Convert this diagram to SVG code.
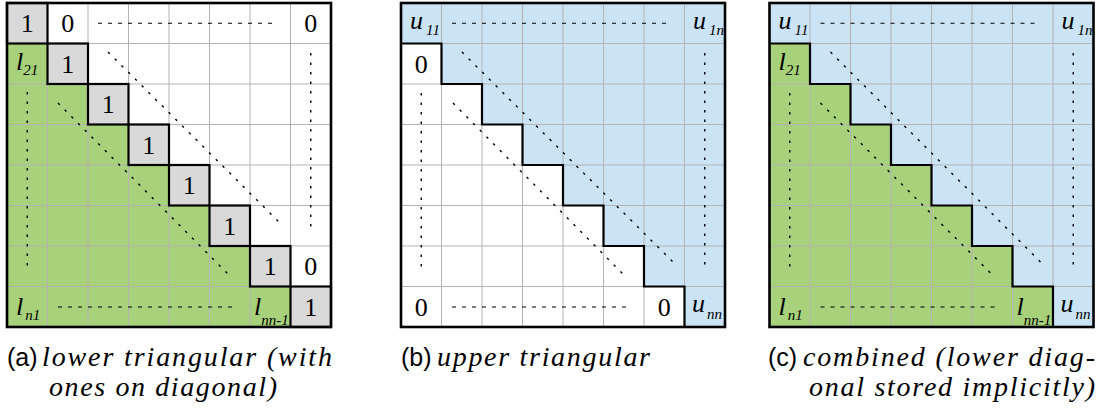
<svg xmlns="http://www.w3.org/2000/svg" width="1101" height="418" viewBox="0 0 1101 418">
<style>
.grid{stroke:#b3b3b3;stroke-width:1;fill:none}
.thick{stroke:#000;stroke-width:2.2;fill:none}
.outer{stroke:#000;stroke-width:2.6;fill:none}
.green{fill:#a7d17a}
.blue{fill:#cbe4f5}
.gray{fill:#d9d9d9}
.white{fill:#fff}
.dash{stroke:#000;stroke-width:1.1;stroke-dasharray:4 6;fill:none}
.dot{stroke:#000;stroke-width:1.4;stroke-dasharray:2.5 7;fill:none}
.num{font-family:'Liberation Serif','DejaVu Serif',serif;font-size:26px;text-anchor:middle;fill:#000}
.var{font-family:'Liberation Serif','DejaVu Serif',serif;font-size:26px;font-style:italic;fill:#000}
.sub{font-size:15px}
.cap{font-family:'Liberation Serif','DejaVu Serif',serif;font-style:italic;font-size:28px;fill:#000}
.lab{font-family:'Liberation Sans','DejaVu Sans',sans-serif;font-size:25px;fill:#000}
</style>
<defs>
<path id="gridlines" class="grid" d="M40.5 0V324M81 0V324M121.5 0V324M162 0V324M202.5 0V324M243 0V324M283.5 0V324M0 40.5H324M0 81H324M0 121.5H324M0 162H324M0 202.5H324M0 243H324M0 283.5H324"/>
<path id="stair" class="thick" d="M0 40.5H40.5V81H81V121.5H121.5V162H162V202.5H202.5V243H243V283.5H283.5V324"/>
<path id="lowerfill" class="green" d="M0 40.5H40.5V81H81V121.5H121.5V162H162V202.5H202.5V243H243V283.5H283.5V324H0Z"/>
<path id="upperfill" class="blue" d="M0 0H324V324H283.5V283.5H243V243H202.5V202.5H162V162H121.5V121.5H81V81H40.5V40.5H0Z"/>
</defs>

<!-- Panel (a) -->
<g id="panel-a" transform="translate(7,3)">
  <rect class="white" x="0" y="0" width="324" height="324"/>
  <use href="#lowerfill"/>
  <g id="a-diag">
    <rect class="gray" x="0" y="0" width="40.5" height="40.5"/>
    <rect class="gray" x="40.5" y="40.5" width="40.5" height="40.5"/>
    <rect class="gray" x="81" y="81" width="40.5" height="40.5"/>
    <rect class="gray" x="121.5" y="121.5" width="40.5" height="40.5"/>
    <rect class="gray" x="162" y="162" width="40.5" height="40.5"/>
    <rect class="gray" x="202.5" y="202.5" width="40.5" height="40.5"/>
    <rect class="gray" x="243" y="243" width="40.5" height="40.5"/>
    <rect class="gray" x="283.5" y="283.5" width="40.5" height="40.5"/>
  </g>
  <use href="#gridlines"/>
  <g id="a-dots">
    <path class="dash" d="M91 20.3H268"/>
    <path class="dot" d="M303.75 50V225"/>
    <path class="dot" d="M101 49L275 222"/>
    <path class="dot" d="M20.25 89V265"/>
    <path class="dot" d="M51 100L224 274"/>
    <path class="dash" d="M51 304H226"/>
  </g>
  <g id="a-text">
    <text class="num" x="20.25" y="29">1</text>
    <text class="num" x="60.75" y="69.5">1</text>
    <text class="num" x="101.25" y="110">1</text>
    <text class="num" x="141.75" y="150.5">1</text>
    <text class="num" x="182.25" y="191">1</text>
    <text class="num" x="222.75" y="231.5">1</text>
    <text class="num" x="263.25" y="272">1</text>
    <text class="num" x="303.75" y="312.5">1</text>
    <text class="num" x="60.75" y="29">0</text>
    <text class="num" x="303.75" y="29">0</text>
    <text class="num" x="303.75" y="272">0</text>
    <text class="var" x="9" y="67">l<tspan class="sub" dy="5">21</tspan></text>
    <text class="var" x="9" y="312">l<tspan class="sub" dx="2" dy="5">n1</tspan></text>
    <text class="var" x="247" y="312">l<tspan class="sub" dy="10">nn-1</tspan></text>
  </g>
  <g id="a-lines">
    <rect class="thick" x="0" y="0" width="40.5" height="40.5"/>
    <rect class="thick" x="40.5" y="40.5" width="40.5" height="40.5"/>
    <rect class="thick" x="81" y="81" width="40.5" height="40.5"/>
    <rect class="thick" x="121.5" y="121.5" width="40.5" height="40.5"/>
    <rect class="thick" x="162" y="162" width="40.5" height="40.5"/>
    <rect class="thick" x="202.5" y="202.5" width="40.5" height="40.5"/>
    <rect class="thick" x="243" y="243" width="40.5" height="40.5"/>
    <rect class="thick" x="283.5" y="283.5" width="40.5" height="40.5"/>
    <rect class="outer" x="0" y="0" width="324" height="324"/>
  </g>
</g>

<!-- Panel (b) -->
<g id="panel-b" transform="translate(401,3)">
  <rect class="white" x="0" y="0" width="324" height="324"/>
  <use href="#upperfill"/>
  <use href="#gridlines"/>
  <g id="b-dots">
    <path class="dash" d="M51 20.3H266"/>
    <path class="dot" d="M303.75 50V265"/>
    <path class="dot" d="M61 49L272 259"/>
    <path class="dot" d="M20.25 90V265"/>
    <path class="dot" d="M52 100L224 273"/>
    <path class="dash" d="M51 304H227"/>
  </g>
  <g id="b-text">
    <text class="var" x="9" y="26">u<tspan class="sub" dx="3" dy="6">11</tspan></text>
    <text class="var" x="292" y="26">u<tspan class="sub" dx="3" dy="6">1n</tspan></text>
    <text class="num" x="20.25" y="69.5">0</text>
    <text class="num" x="20.25" y="312.5">0</text>
    <text class="num" x="263.25" y="312.5">0</text>
    <text class="var" x="291" y="309">u<tspan class="sub" dx="2" dy="7">nn</tspan></text>
  </g>
  <g id="b-lines">
    <use href="#stair"/>
    <rect class="outer" x="0" y="0" width="324" height="324"/>
  </g>
</g>

<!-- Panel (c) -->
<g id="panel-c" transform="translate(769.5,3)">
  <use href="#upperfill"/>
  <use href="#lowerfill"/>
  <use href="#gridlines"/>
  <g id="c-dots">
    <path class="dash" d="M51 20.3H268"/>
    <path class="dot" d="M303.75 50V265"/>
    <path class="dot" d="M61 49L271 259"/>
    <path class="dot" d="M20.25 90V265"/>
    <path class="dot" d="M51 100L224 273"/>
    <path class="dash" d="M51 304H228"/>
  </g>
  <g id="c-text">
    <text class="var" x="9" y="26">u<tspan class="sub" dx="3" dy="6">11</tspan></text>
    <text class="var" x="292" y="26">u<tspan class="sub" dx="3" dy="6">1n</tspan></text>
    <text class="var" x="9" y="67">l<tspan class="sub" dy="5">21</tspan></text>
    <text class="var" x="9" y="312">l<tspan class="sub" dx="2" dy="5">n1</tspan></text>
    <text class="var" x="247" y="312">l<tspan class="sub" dy="10">nn-1</tspan></text>
    <text class="var" x="291" y="309">u<tspan class="sub" dx="2" dy="7">nn</tspan></text>
  </g>
  <g id="c-lines">
    <use href="#stair"/>
    <rect class="outer" x="0" y="0" width="324" height="324"/>
  </g>
</g>

<!-- Captions -->
<g id="caption-a">
  <text class="lab" x="7" y="366">(a)</text>
  <text class="cap" x="42" y="366" textLength="290" lengthAdjust="spacing">lower triangular (with</text>
  <text class="cap" x="49" y="396" textLength="228" lengthAdjust="spacing">ones on diagonal)</text>
</g>
<g id="caption-b">
  <text class="lab" x="401" y="366">(b)</text>
  <text class="cap" x="437" y="366" textLength="213" lengthAdjust="spacing">upper triangular</text>
</g>
<g id="caption-c">
  <text class="lab" x="768" y="366">(c)</text>
  <text class="cap" x="803" y="366" textLength="292" lengthAdjust="spacing">combined (lower diag-</text>
  <text class="cap" x="809" y="396" textLength="286" lengthAdjust="spacing">onal stored implicitly)</text>
</g>
</svg>
